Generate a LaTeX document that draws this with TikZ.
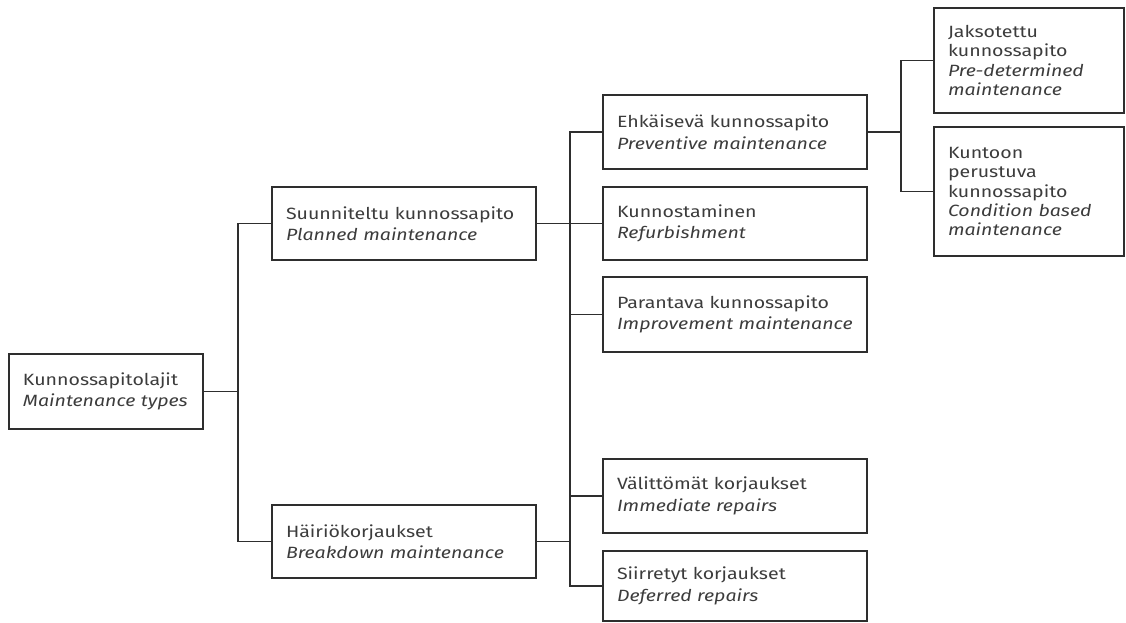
\documentclass[tikz,border=0pt]{standalone}
\usepackage{fontspec}
\setmainfont{Fira Sans}[FakeStretch=1.2]
\definecolor{txt}{HTML}{3C3C3C}
\definecolor{ln}{HTML}{2E2E2E}
\hbadness=10000 \hfuzz=100pt
\hyphenpenalty=10000 \exhyphenpenalty=10000
\begin{document}
\begin{tikzpicture}[x=1pt,y=-1pt,
  box/.style={draw=ln, line width=1.3pt, rectangle, inner xsep=14pt, inner ysep=0pt,
    align=left, font=\fontsize{16.3}{21.5}\selectfont, text=txt},
  tallbox/.style={box, font=\fontsize{16.3}{19.3}\selectfont},
  conn/.style={draw=ln, line width=1.3pt}]
\useasboundingbox (0,0) rectangle (1126,623);
\newcommand{\bx}[6][]{\node[box, #1, minimum width=#4, minimum height=#5, text width=#4-28] (#2) at (#3) {#6};}
\bx{root}{106,391.5}{194}{75}{Kunnossapitolajit\\\textit{Maintenance~types}}
\bx{plan}{404,223.5}{264}{73}{Suunniteltu~kunnossapito\\\textit{Planned~maintenance}}
\bx{brk}{404,541.5}{264}{73}{Häiriökorjaukset\\\textit{Breakdown~maintenance}}
\bx{prev}{735,132}{264}{74}{Ehkäisevä~kunnossapito\\\textit{Preventive~maintenance}}
\bx{refurb}{735,223.5}{264}{73}{Kunnostaminen\\\textit{Refurbishment}}
\bx{impr}{735,314.5}{264}{75}{Parantava~kunnossapito\\\textit{Improvement~maintenance}}
\bx{immed}{735,496}{264}{74}{Välittömät~korjaukset\\\textit{Immediate~repairs}}
\bx{defer}{735,586}{264}{70}{Siirretyt~korjaukset\\\textit{Deferred~repairs}}
\bx[tallbox]{pre}{1029,60.5}{190}{105}{Jaksotettu\\kunnossapito\\\textit{Pre-determined}\\\textit{maintenance}}
\bx[tallbox]{cond}{1029,191.5}{190}{129}{Kuntoon\\perustuva\\kunnossapito\\\textit{Condition~based}\\\textit{maintenance}}
\coordinate (b1) at (238,0);
\coordinate (b2) at (570,0);
\coordinate (b3) at (901,0);
\draw[conn] (root.east) -- (root.east -| b1);
\draw[conn] (plan.west) -- (plan.west -| b1) -- (brk.west -| b1) -- (brk.west);
\draw[conn] (prev.west) -- (prev.west -| b2) -- (defer.west -| b2) -- (defer.west);
\draw[conn] (plan.east) -- (plan.east -| b2);
\draw[conn] (brk.east) -- (brk.east -| b2);
\draw[conn] (refurb.west) -- (refurb.west -| b2);
\draw[conn] (impr.west) -- (impr.west -| b2);
\draw[conn] (immed.west) -- (immed.west -| b2);
\draw[conn] (prev.east) -- (prev.east -| b3);
\draw[conn] (pre.west) -- (pre.west -| b3) -- (cond.west -| b3) -- (cond.west);
\end{tikzpicture}
\end{document}
